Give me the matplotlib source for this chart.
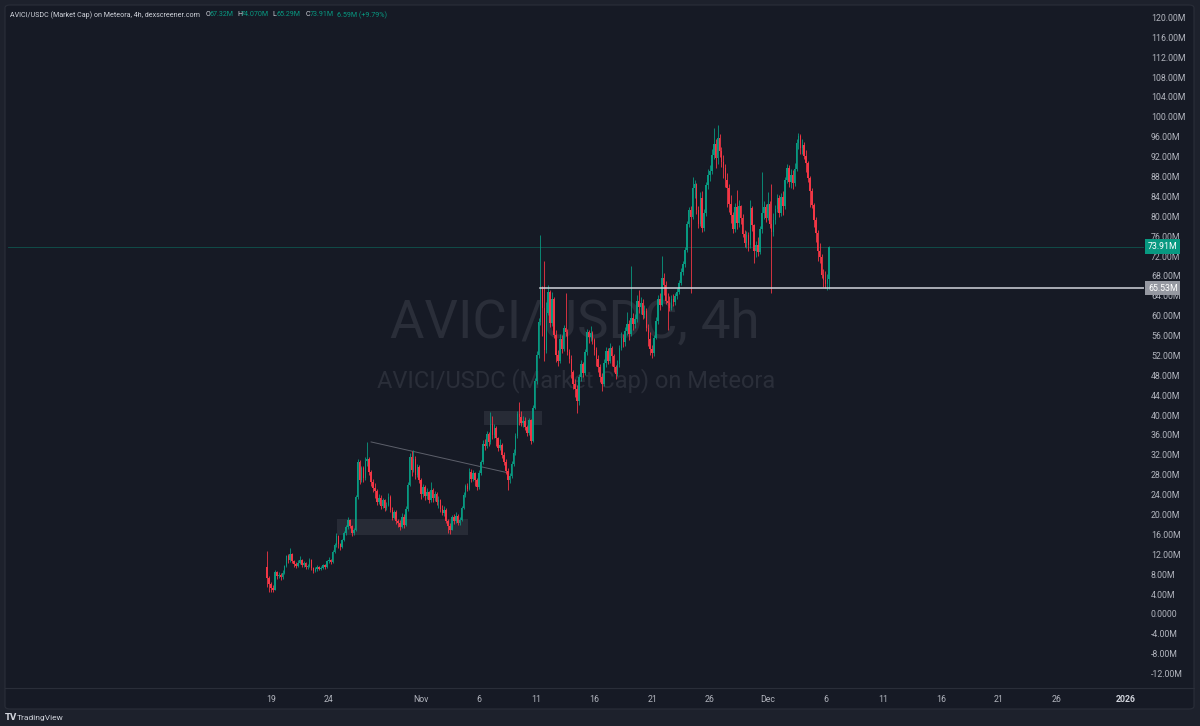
import matplotlib
matplotlib.use("Agg")
import matplotlib.pyplot as plt
import matplotlib.dates as mdates
from matplotlib.patches import FancyBboxPatch, Rectangle
from matplotlib.lines import Line2D
import numpy as np
import pandas as pd

# ---- data: AVICI/USDC market cap, 4h candles, values in millions ----
first_open = 9.5
bar_start = "2025-10-18 16:00"

close_m = [
    7.2, 6.0,                               # Oct 18
    5.2, 4.9, 8.4, 7.6, 7.9, 7.4,           # Oct 19
    8.3, 9.6, 11.6, 10.8, 12.0, 10.6,       # Oct 20
    10.1, 9.6, 10.3, 10.9, 9.9, 10.2,       # Oct 21
    9.4, 9.7, 10.8, 9.3, 8.7, 9.0,          # Oct 22
    9.5, 9.0, 9.2, 9.8, 9.4, 10.6,          # Oct 23
    10.9, 10.4, 12.4, 13.8, 15.6, 14.0,     # Oct 24
    13.4, 14.8, 16.2, 17.4, 18.8, 17.6,     # Oct 25
    16.2, 16.9, 23.5, 30.6, 27.0, 29.3,     # Oct 26
    27.4, 30.8, 31.2, 28.6, 26.5, 25.4,     # Oct 27
    24.8, 22.6, 23.4, 21.8, 22.9, 21.4,     # Oct 28
    22.0, 23.6, 21.0, 19.4, 20.5, 18.6,     # Oct 29
    18.2, 17.4, 19.6, 17.8, 21.2, 26.0,     # Oct 30
    31.6, 29.0, 31.2, 28.0, 29.5, 27.0,     # Oct 31
    24.2, 25.6, 23.8, 24.6, 22.9, 25.0,     # Nov 1
    23.4, 24.2, 22.5, 23.0, 21.2, 20.4,     # Nov 2
    21.0, 18.6, 17.6, 16.9, 19.5, 18.6,     # Nov 3
    19.8, 18.3, 18.9, 21.4, 23.9, 25.7,     # Nov 4
    25.2, 28.6, 27.2, 28.3, 26.9, 25.6,     # Nov 5
    28.4, 30.6, 34.2, 33.8, 36.2, 34.6,     # Nov 6
    38.2, 36.0, 37.5, 35.4, 33.4, 34.0,     # Nov 7
    32.0, 30.6, 28.8, 26.9, 27.8, 30.2,     # Nov 8
    32.4, 35.8, 40.2, 39.6, 38.4, 38.9,     # Nov 9
    37.6, 36.4, 39.0, 34.8, 41.5, 46.8,     # Nov 10
    52.0, 58.8, 65.3, 61.5, 53.0, 60.6,     # Nov 11
    64.8, 58.6, 63.4, 56.2, 52.1, 50.8,     # Nov 12
    55.4, 53.2, 57.6, 56.8, 52.6, 51.2,     # Nov 13
    48.6, 46.2, 45.2, 42.8, 47.6, 50.2,     # Nov 14
    48.4, 52.6, 56.8, 55.7, 56.6, 55.2,     # Nov 15
    53.0, 51.2, 49.6, 47.6, 46.2, 50.4,     # Nov 16
    52.8, 50.9, 53.4, 51.8, 49.6, 48.2,     # Nov 17
    50.2, 53.4, 55.6, 54.8, 56.9, 58.4,     # Nov 18
    56.4, 59.6, 58.3, 59.4, 62.9, 61.8,     # Nov 19
    62.6, 60.1, 61.0, 57.6, 55.4, 53.2,     # Nov 20
    52.4, 55.6, 58.9, 63.4, 62.1, 67.6,     # Nov 21
    66.2, 63.0, 62.5, 61.6, 63.4, 62.8,     # Nov 22
    63.9, 64.8, 66.6, 68.8, 70.4, 73.2,     # Nov 23
    78.4, 81.2, 79.8, 85.6, 86.4, 81.2,     # Nov 24
    78.4, 83.6, 77.6, 80.6, 86.2, 88.4,     # Nov 25
    89.2, 92.4, 94.6, 91.8, 95.8, 93.2,     # Nov 26
    91.0, 89.8, 87.2, 85.6, 82.4, 80.2,     # Nov 27
    77.4, 81.8, 78.6, 82.0, 79.6, 76.4,     # Nov 28
    74.6, 76.2, 74.2, 81.6, 78.2, 73.0,     # Nov 29
    74.2, 72.8, 77.4, 80.6, 81.9, 79.6,     # Nov 30
    82.4, 78.4, 76.8, 79.2, 81.4, 83.6,     # Dec 1
    80.6, 83.8, 82.0, 87.2, 89.8, 86.8,     # Dec 2
    88.4, 86.6, 89.6, 94.8, 96.2, 93.8,     # Dec 3
    94.4, 92.2, 90.8, 87.6, 85.0, 82.2,     # Dec 4
    79.2, 76.6, 73.0, 71.8, 68.2, 67.2,     # Dec 5
    66.4, 67.32, 73.91,                     # Dec 6
]

high_m = [
    12.6, 7.6,
    6.4, 5.8, 8.9, 8.6, 8.5, 8.2,
    8.8, 9.9, 11.9, 12.1, 13.3, 12.2,
    10.9, 10.5, 10.8, 11.7, 11.1, 10.6,
    10.4, 10.0, 11.3, 11.0, 9.5, 9.4,
    9.8, 9.7, 9.6, 10.1, 10.0, 10.9,
    11.4, 11.0, 12.8, 14.2, 16.2, 15.8,
    14.2, 15.1, 16.6, 17.9, 19.5, 19.0,
    17.8, 17.3, 24.0, 31.2, 31.0, 29.8,
    29.8, 31.5, 34.6, 31.5, 29.0, 27.1,
    26.3, 25.1, 24.1, 23.9, 23.3, 23.1,
    22.5, 24.3, 23.9, 21.5, 21.0, 20.9,
    19.1, 18.8, 20.4, 20.2, 21.8, 26.6,
    32.3, 32.8, 33.0, 31.8, 30.2, 29.9,
    27.4, 26.2, 26.0, 25.4, 24.8, 26.6,
    25.4, 24.8, 24.5, 23.8, 23.2, 21.9,
    21.8, 21.4, 19.1, 18.2, 19.9, 20.1,
    20.5, 20.2, 19.6, 21.8, 24.5, 26.2,
    26.4, 29.3, 29.2, 29.0, 28.5, 27.3,
    28.9, 31.0, 35.0, 35.2, 36.8, 36.6,
    40.6, 39.8, 38.2, 37.8, 35.6, 35.2,
    34.3, 32.6, 31.2, 29.3, 28.4, 30.8,
    33.1, 36.4, 40.9, 42.6, 40.8, 39.8,
    39.6, 38.0, 39.4, 39.3, 42.0, 47.4,
    52.8, 59.5, 76.3, 66.0, 71.0, 62.8,
    66.2, 65.2, 64.8, 63.8, 57.1, 53.1,
    56.3, 56.1, 58.2, 64.6, 57.4, 53.3,
    52.0, 49.1, 47.3, 46.1, 48.3, 51.0,
    50.6, 53.2, 57.4, 57.2, 57.9, 57.0,
    55.5, 53.6, 52.0, 50.3, 48.4, 51.2,
    53.6, 53.4, 54.5, 53.9, 52.3, 50.0,
    51.0, 54.1, 56.8, 56.4, 57.8, 60.8,
    59.1, 70.0, 60.5, 60.3, 64.2, 65.2,
    63.8, 63.3, 62.2, 61.5, 58.3, 56.8,
    54.1, 56.2, 59.8, 64.2, 64.6, 72.0,
    68.5, 66.9, 64.6, 64.0, 64.1, 64.4,
    64.5, 65.6, 67.2, 69.5, 71.0, 73.9,
    79.0, 81.9, 82.0, 87.9, 87.2, 86.6,
    82.0, 84.8, 85.1, 81.4, 86.8, 89.6,
    90.4, 93.5, 97.8, 95.6, 98.4, 96.5,
    94.0, 92.3, 90.6, 88.8, 86.4, 84.2,
    80.8, 82.6, 85.2, 83.2, 82.3, 80.5,
    77.2, 77.0, 76.8, 83.3, 82.0, 78.5,
    75.0, 75.8, 78.0, 89.0, 83.1, 82.5,
    84.8, 83.0, 86.4, 80.6, 82.2, 84.4,
    84.2, 84.6, 85.0, 87.8, 90.6, 90.4,
    89.6, 89.4, 90.8, 95.6, 96.8, 96.6,
    95.6, 94.9, 93.4, 91.2, 88.1, 85.6,
    82.6, 79.8, 77.2, 74.6, 72.5, 69.3,
    69.0, 68.4, 74.07,
]

low_m = [
    5.5, 4.5,
    4.5, 4.4, 4.8, 7.0, 7.2, 6.9,
    7.1, 8.1, 9.4, 10.2, 10.5, 10.2,
    9.5, 9.2, 9.4, 10.0, 9.4, 9.5,
    9.0, 9.1, 9.5, 8.8, 8.2, 8.4,
    8.7, 8.8, 8.8, 9.0, 9.0, 9.3,
    10.2, 10.0, 10.3, 12.2, 13.5, 13.3,
    12.8, 13.2, 14.6, 15.9, 17.0, 17.2,
    15.6, 15.9, 16.7, 23.1, 26.2, 26.5,
    26.6, 27.0, 29.8, 28.0, 25.8, 24.6,
    23.4, 22.0, 22.1, 21.2, 21.3, 20.8,
    20.9, 21.8, 20.6, 18.8, 19.0, 18.0,
    17.4, 16.9, 17.2, 17.3, 17.6, 20.8,
    25.8, 27.8, 28.5, 27.2, 27.5, 26.4,
    23.1, 23.6, 23.0, 23.2, 22.4, 22.6,
    22.6, 22.8, 21.9, 21.4, 20.5, 19.9,
    19.8, 18.2, 16.3, 16.0, 16.8, 18.0,
    18.3, 17.8, 17.9, 18.6, 21.2, 23.6,
    24.7, 24.9, 26.5, 26.8, 25.8, 25.0,
    25.2, 27.9, 30.1, 32.9, 33.4, 33.7,
    34.2, 35.2, 35.4, 33.8, 32.8, 33.0,
    31.4, 30.0, 28.2, 25.0, 26.4, 27.3,
    29.8, 31.9, 35.4, 38.1, 37.8, 37.6,
    37.1, 35.8, 35.9, 34.1, 34.5, 41.2,
    46.3, 51.4, 58.2, 56.0, 50.9, 52.4,
    60.1, 57.8, 57.9, 55.6, 50.7, 49.9,
    50.4, 52.4, 52.9, 55.9, 52.1, 50.5,
    47.4, 45.2, 43.6, 40.4, 42.1, 46.8,
    47.6, 48.0, 52.1, 54.6, 55.0, 54.4,
    52.1, 49.8, 48.6, 46.6, 44.9, 45.8,
    49.6, 50.2, 50.4, 49.9, 48.6, 47.3,
    47.8, 49.7, 53.0, 53.6, 54.0, 56.1,
    55.2, 56.0, 57.1, 57.5, 58.8, 60.6,
    60.4, 59.3, 59.6, 57.0, 53.9, 52.1,
    51.5, 51.8, 55.3, 58.4, 61.2, 61.9,
    64.1, 62.4, 57.1, 60.9, 61.2, 61.9,
    62.2, 63.4, 64.3, 66.1, 68.2, 69.8,
    72.9, 77.8, 64.6, 79.4, 83.6, 80.4,
    77.6, 78.0, 76.8, 77.0, 80.0, 85.4,
    87.1, 88.5, 91.6, 89.7, 90.5, 92.0,
    89.9, 87.6, 85.9, 81.9, 80.8, 78.6,
    76.6, 76.8, 77.4, 77.9, 78.4, 75.8,
    73.8, 73.6, 73.1, 73.7, 77.0, 70.6,
    71.9, 72.0, 72.5, 76.6, 79.4, 78.8,
    79.2, 77.6, 64.6, 76.0, 78.5, 80.8,
    79.9, 80.1, 80.2, 81.4, 86.6, 85.8,
    85.6, 85.4, 86.0, 89.2, 93.5, 92.6,
    92.6, 91.6, 88.9, 86.8, 81.8, 81.6,
    77.8, 74.9, 71.0, 70.6, 67.5, 65.8,
    65.6, 65.2, 65.29,
]

support_level = 65.53
price_ticks = list(range(-12, 121, 4))
date_ticks = ["2025-10-19", "2025-10-24", "2025-11-01", "2025-11-06", "2025-11-11",
              "2025-11-16", "2025-11-21", "2025-11-26", "2025-12-01", "2025-12-06",
              "2025-12-11", "2025-12-16", "2025-12-21", "2025-12-26", "2026-01-01"]
date_labels = ["19", "24", "Nov", "6", "11", "16", "21", "26", "Dec", "6",
               "11", "16", "21", "26", "2026"]

# ---- colours ----
BG = "#161a25"
OUTER = "#1d212c"
UP = "#089981"
DOWN = "#f23645"
TXT = "#b2b5be"
W, H = 1200, 726

close = np.array(close_m)
high = np.array(high_m)
low = np.array(low_m)
opn = np.concatenate([[first_open], close[:-1]])
times = pd.date_range(bar_start, periods=len(close), freq="4h")
x = mdates.date2num(times.to_pydatetime())

fig = plt.figure(figsize=(12, 7.26), dpi=100, facecolor=OUTER)

def fx(px):
    return px / W

def fy(py):
    return 1 - py / H

# panel background with rounded border (drawn under the axes)
panel = FancyBboxPatch((fx(5), fy(709)), fx(1194) - fx(5), fy(5) - fy(709),
                       boxstyle="round,pad=0,rounding_size=0.004",
                       transform=fig.transFigure, facecolor=BG,
                       edgecolor="#2a2e39", lw=0.8, zorder=-10)
fig.patches.append(panel)

PLOT_L, PLOT_R = 8, 1144
ax = fig.add_axes([fx(PLOT_L), fy(688), fx(PLOT_R) - fx(PLOT_L), fy(6) - fy(688)])
ax.set_zorder(1)
ax.set_facecolor("none")
for s in ax.spines.values():
    s.set_visible(False)

d0 = mdates.date2num(pd.Timestamp("2025-10-19").to_pydatetime())
px_per_day = 11.55

# separator between plot and time scale
fig.add_artist(Line2D([fx(5), fx(1194)], [fy(688), fy(688)], color="#2a2e39", lw=0.8, zorder=-5))

# watermark
ax.text(fx(575), fy(323), "AVICI/USDC, 4h", transform=fig.transFigure,
        ha="center", va="center", fontsize=38, color="#2a2e39", family="Roboto", zorder=1)
ax.text(fx(576), fy(381), "AVICI/USDC (Market Cap) on Meteora", transform=fig.transFigure,
        ha="center", va="center", fontsize=17, color="#2a2e39", family="Roboto", zorder=1)

# drawings: zones and trend line
def dn(s):
    return mdates.date2num(pd.Timestamp(s).to_pydatetime())

ax.add_patch(Rectangle((dn("2025-10-24 17:00"), 15.9), dn("2025-11-05 01:00") - dn("2025-10-24 17:00"),
                       3.2, facecolor="#787b86", alpha=0.18, lw=0, zorder=2))
ax.add_patch(Rectangle((dn("2025-11-06 10:00"), 38.0), dn("2025-11-11 11:00") - dn("2025-11-06 10:00"),
                       2.8, facecolor="#787b86", alpha=0.18, lw=0, zorder=2))
ax.plot([dn("2025-10-27 16:00"), dn("2025-11-08 12:00")], [34.6, 28.4],
        color="#5d606b", lw=0.7, zorder=2)

# candles
up = close >= opn
col = np.where(up, UP, DOWN)
ax.vlines(x, low, high, colors=col, lw=0.6, zorder=3)
body_lo = np.minimum(opn, close)
body_h = np.maximum(np.abs(close - opn), 0.2)
ax.bar(x, body_h, bottom=body_lo, width=0.13, color=col, lw=0, zorder=4)

x_left = d0 + (PLOT_L - 271) / px_per_day
x_right = d0 + (PLOT_R - 271) / px_per_day

# last price line and support ray
last = close[-1]
ax.plot([x_left, x_right], [last, last], color=UP, lw=0.6, alpha=0.45, zorder=2)
ax.plot([dn("2025-11-11 07:00"), x_right], [support_level, support_level],
        color="#d1d4dc", lw=1.1, zorder=5)

# price scale
ax.yaxis.set_ticks_position("right")
ax.set_yticks(price_ticks)
ax.set_yticklabels(["0.0000" if v == 0 else f"{v:.2f}M" for v in price_ticks])
ax.tick_params(axis="y", length=0, pad=5, labelsize=6.3, labelcolor=TXT)
for t in ax.get_yticklabels():
    t.set_family("Roboto")

# time scale
ax.set_xticks([dn(d) for d in date_ticks])
ax.set_xticklabels(date_labels)
ax.tick_params(axis="x", length=0, pad=5, labelsize=6.3, labelcolor=TXT)
for t in ax.get_xticklabels():
    t.set_family("Roboto")
ax.get_xticklabels()[-1].set_fontweight("bold")
ax.get_xticklabels()[-1].set_color("#d1d4dc")

ax.set_xlim(x_left, x_right)
ax.set_ylim(-14.9, 122.3)

# price labels on the scale
for val, fc in [(last, UP), (support_level, "#9598a1")]:
    ax.text(1.0 + 4 / (PLOT_R - PLOT_L), val, f"{val:.2f}M",
            transform=ax.get_yaxis_transform(), ha="left", va="center",
            fontsize=6.3, color="white", family="Roboto", zorder=6,
            bbox=dict(boxstyle="square,pad=0.3", fc=fc, ec="none"), clip_on=False)

# legend line at top-left
fs = 5.1
fig.text(fx(10), fy(15), "AVICI/USDC (Market Cap) on Meteora, 4h, dexscreener.com",
         fontsize=fs, color="#d1d4dc", va="center", family="Roboto")
for px, s, c in [(205.5, "O", "#d1d4dc"), (209.5, "67.32M", UP),
                 (237, "H", "#d1d4dc"), (241, "74.070M", UP),
                 (272.7, "L", "#d1d4dc"), (276.5, "65.29M", UP),
                 (305.5, "C", "#d1d4dc"), (309.5, "73.91M", UP),
                 (337, "6.59M (+9.79%)", UP)]:
    fig.text(fx(px), fy(15), s, fontsize=fs, color=c, va="center", family="Roboto")

# TradingView footer
fig.text(fx(5), fy(718), "TV", fontsize=6, color="#d1d4dc", va="center",
         family="DejaVu Sans", fontweight="bold")
fig.text(fx(17), fy(718), "TradingView", fontsize=6, color="#d1d4dc", va="center", family="Roboto")

fig.savefig("out.png", dpi=100, facecolor=OUTER)
